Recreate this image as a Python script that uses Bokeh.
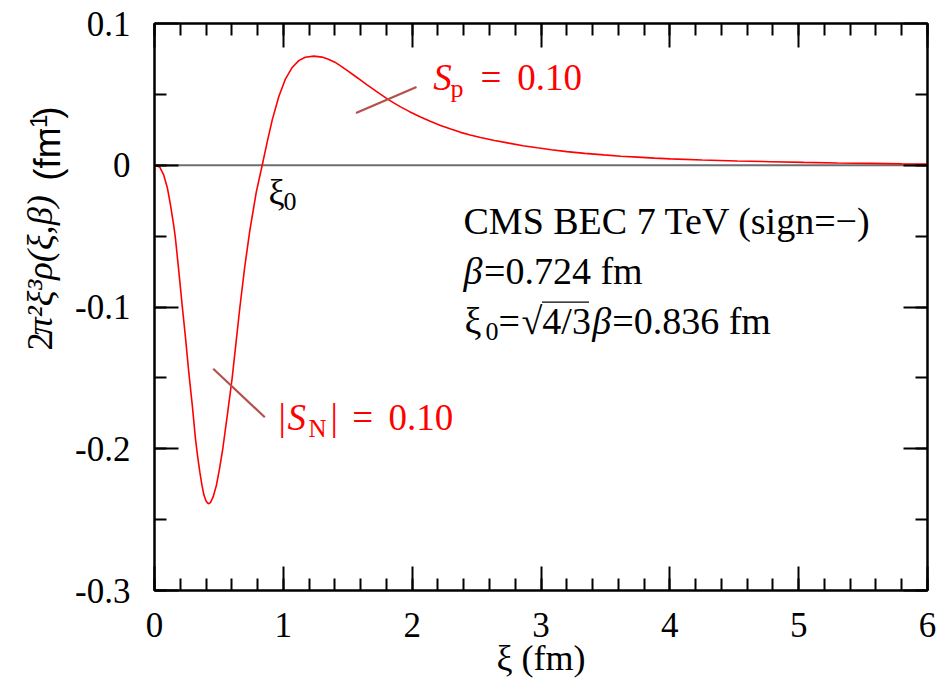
import math
from bokeh.plotting import figure
from bokeh.layouts import row
from bokeh.models import Range1d, FixedTicker, LinearAxis, Span, Label
from bokeh.embed import file_html
from bokeh.resources import INLINE

# ---- data ----
xi = [0.0, 0.04, 0.072, 0.10, 0.124, 0.15, 0.163, 0.189, 0.215, 0.241, 0.266,
      0.293, 0.318, 0.335, 0.352, 0.368, 0.383, 0.40, 0.412, 0.422, 0.435,
      0.455, 0.48, 0.505, 0.53, 0.567, 0.603, 0.633, 0.663, 0.70, 0.74,
      0.79, 0.836, 0.875, 0.914, 0.965, 1.017, 1.069, 1.12, 1.17, 1.237,
      1.30, 1.35, 1.40, 1.45, 1.50, 1.55, 1.60, 1.65, 1.70, 1.75, 1.807,
      1.86, 1.91, 1.98, 2.065, 2.14, 2.22, 2.30, 2.376, 2.45, 2.53, 2.64,
      2.75, 2.86, 2.971, 3.08, 3.2, 3.34, 3.488, 3.62, 3.75, 3.88, 4.006,
      4.25, 4.524, 4.78, 5.04, 5.3, 5.56, 5.8, 6.0]
rho = [0.0, -0.0012, -0.007, -0.016, -0.028, -0.043, -0.052, -0.075, -0.099,
       -0.122, -0.146, -0.169, -0.193, -0.2055, -0.2165, -0.2255, -0.2325,
       -0.2368, -0.2383, -0.2388, -0.2378, -0.234, -0.226, -0.214, -0.200,
       -0.175, -0.150, -0.125, -0.100, -0.072, -0.046, -0.019, 0.0, 0.0165,
       0.032, 0.0485, 0.061, 0.069, 0.0738, 0.0762, 0.0770,
       0.0763, 0.0748, 0.0727, 0.0698, 0.0666, 0.0633, 0.0600, 0.0567,
       0.0535, 0.0503, 0.0468, 0.0438, 0.0412, 0.0378, 0.0340, 0.0310,
       0.0281, 0.0255, 0.0232, 0.0214, 0.0196, 0.0175, 0.0156, 0.0138,
       0.0123, 0.0109, 0.0096, 0.0084, 0.0073, 0.0064, 0.0057, 0.0050,
       0.0045, 0.0037, 0.0030, 0.0025, 0.0020, 0.0016, 0.0013, 0.0010,
       0.0008]

x_ticks = [0, 1, 2, 3, 4, 5, 6]
x_tick_labels = ["0", "1", "2", "3", "4", "5", "6"]
y_ticks = [-0.3, -0.2, -0.1, 0.0, 0.1]
y_tick_labels = ["-0.3", "-0.2", "-0.1", "0", "0.1"]
x_minor = [i / 5 for i in range(0, 31)]
y_minor = [-0.3 + i * 0.05 for i in range(0, 9)]

# frame geometry (pixels of the whole page)
FL, FR, FT, FB = 154, 927, 23, 590
W, H = 936, 685
LW = 72   # width of the strip that holds the y-axis title
X0, X1, Y0, Y1 = 0.0, 6.0, -0.3, 0.1
SERIF = "Liberation Serif"
SANS = "Liberation Sans"
RED = "#ff0000"
IND = "#b4504b"
BASE_SHIFT = 0.35   # baseline correction, fraction of font size


def dx(px):
    return X0 + (px - FL) * (X1 - X0) / (FR - FL)


def dy(py):
    return Y1 - (py - FT) * (Y1 - Y0) / (FB - FT)


# ---------------- main plot ----------------
p = figure(width=W - LW, height=H, x_range=Range1d(X0, X1),
           y_range=Range1d(Y0, Y1),
           output_backend="svg", toolbar_location=None,
           min_border_left=FL - LW, min_border_right=W - FR,
           min_border_top=FT, min_border_bottom=H - FB,
           x_axis_type=None, y_axis_type=None)
p.xgrid.visible = False
p.ygrid.visible = False
p.outline_line_color = "black"
p.outline_line_width = 2
p.background_fill_color = "white"
p.border_fill_color = "white"


def make_axis(ticks, minor, labels, show):
    ax = LinearAxis(ticker=FixedTicker(ticks=ticks, minor_ticks=minor))
    ax.axis_line_width = 2
    ax.axis_line_color = "black"
    ax.major_tick_line_width = 2
    ax.minor_tick_line_width = 2
    ax.major_tick_in = 24
    ax.major_tick_out = 0
    ax.minor_tick_in = 12
    ax.minor_tick_out = 0
    if show:
        ax.major_label_overrides = {t: l for t, l in zip(ticks, labels)}
        ax.major_label_text_font = SERIF
        ax.major_label_text_font_size = "35px"
        ax.major_label_text_color = "black"
    else:
        ax.major_label_overrides = {t: "" for t in ticks}
        ax.major_label_text_font_size = "1px"
        ax.major_label_standoff = 0
    return ax


xb = make_axis(x_ticks, x_minor, x_tick_labels, True)
xb.major_label_standoff = 22
xb.axis_label = "ξ (fm)"
xb.axis_label_text_font = SERIF
xb.axis_label_text_font_size = "36px"
xb.axis_label_text_font_style = "normal"
xb.axis_label_text_color = "black"
xb.axis_label_standoff = -2
yl = make_axis(y_ticks, y_minor, y_tick_labels, True)
yl.major_label_standoff = 24
p.add_layout(xb, "below")
p.add_layout(yl, "left")
p.add_layout(make_axis(x_ticks, x_minor, x_tick_labels, False), "above")
p.add_layout(make_axis(y_ticks, y_minor, y_tick_labels, False), "right")

zero = Span(location=0, dimension="width", line_color="#6e6e6e", line_width=2,
            level="underlay")
p.add_layout(zero)

p.line(xi, rho, line_color=RED, line_width=1.6)

# pointer lines
p.segment(x0=[dx(355.5), dx(212.7)], y0=[dy(112.5), dy(368.3)],
          x1=[dx(416), dx(264.3)], y1=[dy(86.5), dy(416.7)],
          line_color=IND, line_width=2.2)
# overline of the square root
p.segment(x0=[dx(541.5)], y0=[dy(301.7)], x1=[dx(588.5)], y1=[dy(301.7)],
          line_color="black", line_width=1.3)


def lab(text, px, py, size, font=SERIF, style="normal", color="black",
        align="left"):
    p.add_layout(Label(x=dx(px), y=dy(py - BASE_SHIFT * size), text=text,
                       text_font=font, text_font_size=f"{size}px",
                       text_font_style=style, text_color=color,
                       text_baseline="alphabetic", text_align=align))


# S_p = 0.10
lab("S", 432.7, 90, 37, style="italic", color=RED)
lab("p", 450, 97, 26, color=RED)
lab("=", 480, 90, 37, color=RED)
lab("0.10", 516.7, 90, 37, color=RED)
# |S_N| = 0.10
lab("|", 278, 430, 37, color=RED)
lab("S", 287, 430, 37, style="italic", color=RED)
lab("N", 308, 436.7, 25, color=RED)
lab("|", 330, 430, 37, color=RED)
lab("=", 351.7, 430, 37, color=RED)
lab("0.10", 388, 430, 37, color=RED)
# xi_0 marker
lab("ξ", 268, 204, 36)
lab("0", 283, 210, 26)
# info block
lab("CMS BEC 7 TeV (sign=\u2212)", 463, 233.3, 38)
lab("β", 463, 283.3, 38, style="italic")
lab("=0.724 fm", 483.5, 283.3, 38)
lab("ξ", 464, 333.3, 38)
lab("0", 485, 340, 26)
lab("=", 498, 333.3, 38)
lab("\u221a4/3", 521, 333.3, 38)
lab("β", 591.7, 333.3, 38, style="italic")
lab("=0.836 fm", 611.7, 333.3, 38)

# ---------------- strip with the rotated y-axis title ----------------
q = figure(width=LW, height=H, x_range=Range1d(0, LW), y_range=Range1d(0, H),
           output_backend="svg", toolbar_location=None,
           min_border_left=0, min_border_right=0, min_border_top=0,
           min_border_bottom=0, x_axis_type=None, y_axis_type=None)
q.xgrid.visible = False
q.ygrid.visible = False
q.outline_line_color = None
q.background_fill_color = "white"
q.border_fill_color = "white"
R = math.pi / 2


def vlab(text, bx, py, size, font=SERIF, style="normal"):
    q.add_layout(Label(x=bx - BASE_SHIFT * size, y=H - py, text=text,
                       text_font=font, text_font_size=f"{size}px",
                       text_font_style=style, text_color="black",
                       text_baseline="alphabetic", text_align="left",
                       angle=R))


vlab("2", 52, 395, 36.5)
vlab("π²ξ³ρ(ξ,β)", 52, 377, 36.5, style="italic")
vlab("(fm", 60, 190, 37, font=SANS)
vlab("-1", 46, 136, 24, font=SANS)
vlab(")", 60, 115, 37, font=SANS)

layout = row(q, p, spacing=0)
open("out.html", "w").write(file_html(layout, INLINE))
